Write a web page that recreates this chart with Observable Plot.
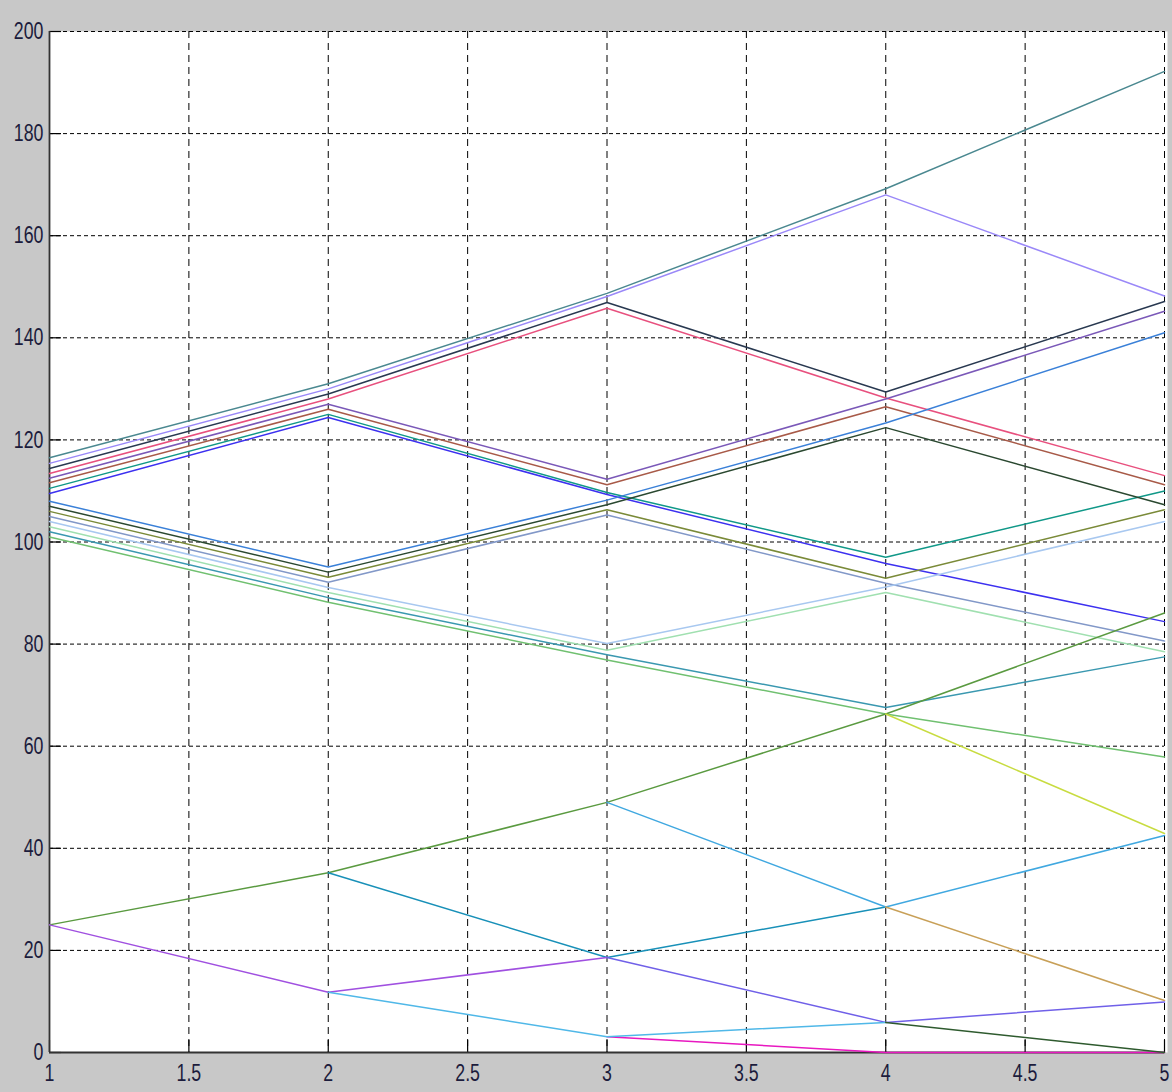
<!DOCTYPE html>
<html>
<head>
<meta charset="utf-8">
<script src="https://cdn.jsdelivr.net/npm/d3@7"></script>
<script src="https://cdn.jsdelivr.net/npm/@observablehq/plot@0.6"></script>
<style>
  html, body { margin: 0; padding: 0; background: #c8c8c8; }
  #chart svg { display: block; }
</style>
</head>
<body>
<div id="chart"></div>
<script>
// Time steps along the horizontal axis
const steps = [1, 2, 3, 4, 5];

// Tick positions and labels
const xTicks = [1, 1.5, 2, 2.5, 3, 3.5, 4, 4.5, 5];
const xTickLabels = ["1", "1.5", "2", "2.5", "3", "3.5", "4", "4.5", "5"];
const yTicks = [0, 20, 40, 60, 80, 100, 120, 140, 160, 180, 200];
const yTickLabels = ["0", "20", "40", "60", "80", "100", "120", "140", "160", "180", "200"];

// Upper tree: eight paths starting near 110-116
const upperColors = ["#4a8890", "#9a88f8", "#283850", "#e8507e", "#7a58b8", "#a85a48", "#109888", "#3c30f0"];
const upperValues = [
  [116.5, 131.0, 148.7, 169.2, 192.2],
  [115.4, 130.0, 148.1, 168.0, 148.2],
  [114.4, 129.0, 146.9, 129.4, 147.1],
  [113.4, 128.0, 145.8, 128.2, 113.0],
  [112.5, 127.0, 112.3, 128.0, 145.2],
  [111.6, 126.0, 111.2, 126.5, 111.2],
  [110.5, 125.0, 109.7, 97.0, 110.0],
  [109.5, 124.4, 109.3, 95.8, 84.4]
];

// Middle tree: eight paths starting near 101-108
const middleColors = ["#3a80d8", "#2a4830", "#7a8a38", "#8298c8", "#a8c8f0", "#a0e0b0", "#3a98b0", "#70c070"];
const middleValues = [
  [108.0, 95.1, 108.2, 123.3, 141.0],
  [107.0, 94.1, 107.3, 122.4, 107.3],
  [106.0, 93.1, 106.3, 92.9, 106.3],
  [105.0, 92.1, 105.3, 91.9, 80.6],
  [104.0, 91.1, 80.1, 91.2, 104.0],
  [103.0, 90.1, 78.8, 90.1, 78.5],
  [102.0, 89.1, 77.9, 67.6, 77.5],
  [101.0, 88.2, 76.9, 66.3, 57.9]
];

// Lower tree from 25: visible branches (null where a branch is not drawn)
const lowerColors = ["#5a9a40", "#c8dc40", "#1890b8", "#40a8e0", "#c8a058", "#a050e0", "#7060e8", "#e818c0", "#50b8e8", "#2e5a2e"];
const lowerValues = [
  [25.0, 35.2, 49.0, 66.3, 86.1],
  [null, null, null, 66.3, 42.9],
  [null, 35.2, 18.6, 28.5, null],
  [null, null, 49.0, 28.5, 42.5],
  [null, null, null, 28.5, 10.2],
  [25.0, 11.8, 18.6, null, null],
  [null, null, 18.6, 5.9, 9.9],
  [null, null, 3.1, 0.0, 0.0],
  [null, 11.8, 3.1, 5.9, null],
  [null, null, null, 5.9, 0.0]
];

const seriesColors = [...upperColors, ...middleColors, ...lowerColors];
const seriesValues = [...upperValues, ...middleValues, ...lowerValues];

// Long-format rows for each series, skipping undrawn steps
const seriesRows = seriesValues.map((vals, i) =>
  steps.map((s, j) => ({step: s, value: vals[j], color: seriesColors[i], id: i}))
       .filter(d => d.value != null)
);

const W = 1172, H = 1092;
const mL = 49, mR = 8, mT = 31, mB = 40;
const plotW = W - mL - mR, plotH = H - mT - mB;
const tickLen = 12;
const fontStack = "'Liberation Sans Narrow', 'Arial Narrow', 'Liberation Sans', Arial, sans-serif";

const chart = Plot.plot({
  width: W,
  height: H,
  marginLeft: mL,
  marginRight: mR,
  marginTop: mT,
  marginBottom: mB,
  style: {background: "#c8c8c8", fontFamily: fontStack, fontSize: "24px", color: "#1c1c3c", overflow: "visible"},
  color: {type: "identity"},
  x: {
    domain: [1, 5],
    ticks: xTicks,
    tickFormat: d => xTickLabels[xTicks.indexOf(d)],
    tickSize: 0,
    tickPadding: 11,
    label: null
  },
  y: {
    domain: [0, 200],
    ticks: yTicks,
    tickFormat: d => yTickLabels[yTicks.indexOf(d)],
    tickSize: 0,
    tickPadding: 6,
    label: null
  },
  marks: [
    Plot.frame({fill: "white", stroke: "none", insetRight: -3}),
    // dashed grid
    Plot.ruleX(xTicks.slice(1), {x: d => d, stroke: "#000", strokeWidth: 1, strokeDasharray: "7,5"}),
    Plot.ruleY(yTicks.slice(1), {y: d => d, stroke: "#000", strokeWidth: 1, strokeDasharray: "4,3"}),
    // inward solid ticks
    Plot.tickX(xTicks, {x: d => d, stroke: "#000", strokeWidth: 1.2, insetTop: plotH - tickLen}),
    Plot.tickY(yTicks, {y: d => d, stroke: "#000", strokeWidth: 1.2, insetRight: plotW - tickLen}),
    // axis lines
    Plot.ruleX([1], {x: d => d, stroke: "#333", strokeWidth: 1.8}),
    Plot.ruleY([0], {y: d => d, stroke: "#333", strokeWidth: 1.8}),
    // series
    ...seriesRows.map(rows => Plot.line(rows, {x: "step", y: "value", stroke: "color", strokeWidth: 1.5}))
  ]
});

// Narrow tick-label glyphs: squeeze each label horizontally about its anchor
d3.select(chart).selectAll("text").each(function() {
  const t = this.getAttribute("transform") || "";
  this.setAttribute("transform", (t + " scale(0.74,1)").trim());
});

document.getElementById("chart").appendChild(chart);
</script>
</body>
</html>
